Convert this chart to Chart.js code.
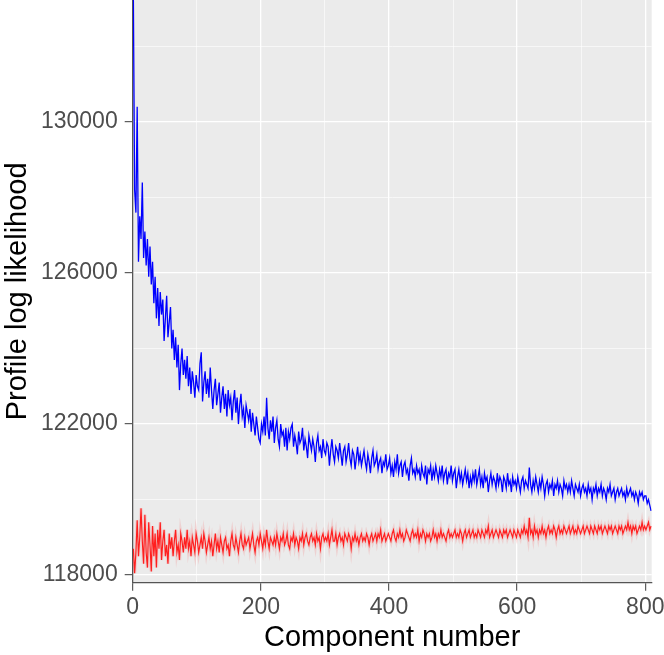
<!DOCTYPE html>
<html lang="en">
<head>
    <meta charset="UTF-8">
    <title>Profile log likelihood</title>
    <style>
        body { margin: 0; background: #ffffff; }
    </style>
</head>
<body>
<div>
  <canvas id="myChart" width="664" height="655"></canvas>
</div>
<script src="https://cdn.jsdelivr.net/npm/chart.js"></script>
<script>
  // one value every 2 components (1, 3, 5, ... 809)
  const componentStep = 2;

  const blueValues = [
    133400, 128200, 127600, 130400, 126300, 127500, 126900, 128400, 126400, 127100,
    126200, 126900, 125900, 126700, 125700, 126300, 125200, 125900, 124800, 125600,
    124600, 125500, 124900, 125300, 124200, 124800, 125400, 124300, 124700, 125100,
    124000, 124500, 123700, 124300, 123500, 124100, 122900, 123600, 124000, 123300,
    123700, 123200, 123800, 123000, 123500, 122800, 123400, 123100, 122700, 123300,
    123000, 122900, 123600, 123900, 122600, 123100, 123400, 122800, 123200, 122700,
    123500, 122900, 122400, 122900, 123200, 122500, 122800, 123100, 122300, 122700,
    123000, 122400, 122800, 122200, 122900, 122500, 122700, 122100, 122600, 122900,
    122300, 122700, 122000, 122500, 122800, 122200, 122400, 121900, 122500, 122300,
    122100, 122400, 121800, 122300, 122000, 121700, 122200, 121900, 121600, 121500,
    122000, 121800, 122200, 121700, 122700, 121900, 121600, 122100, 121800, 122200,
    121500, 121900, 122100, 121600, 121400, 122000, 121700, 121800, 121400, 121900,
    121300, 121800, 121600, 121900, 122000, 121400, 121700, 121500, 121200, 121800,
    121500, 121600, 121900, 121300, 121600, 121400, 121100, 121700, 121500, 121300,
    121600, 121400, 121000, 121500, 121700, 121300, 121400, 121100, 121600, 121300,
    121200, 121500, 121400, 120900, 121300, 121600, 121200, 121000, 121400, 121300,
    121100, 121500, 121200, 120900, 121300, 121400, 121000, 121200, 121500, 121100,
    120900, 121300, 121200, 120800, 121100, 121400, 121000, 121200, 120900, 121100,
    121300, 121000, 120800, 121200, 121000, 120700, 121100, 121300, 120900, 121000,
    121200, 120800, 121000, 121100, 120700, 121000, 120900, 121200, 120800, 120900,
    121100, 120700, 120900, 120600, 121000, 120800, 121200, 120700, 120900, 121000,
    120600, 120900, 121000, 120700, 120800, 120500, 120900, 121100, 120700, 120800,
    120600, 120900, 120700, 120800, 120500, 120900, 120700, 120600, 120900, 120400,
    120800, 120700, 120900, 120500, 120800, 120600, 120900, 120700, 120500, 120800,
    120600, 120900, 120500, 120700, 120800, 120400, 120700, 120600, 120900, 120500,
    120700, 120800, 120300, 120600, 120800, 120500, 120700, 120400, 120600, 120800,
    120500, 120700, 120300, 120600, 120400, 120700, 120500, 120800, 120400, 120600,
    120800, 120400, 120600, 120300, 120700, 120500, 120600, 120200, 120500, 120700,
    120400, 120600, 120500, 120300, 120700, 120400, 120600, 120500, 120200, 120600,
    120500, 120300, 120700, 120400, 120500, 120200, 120600, 120400, 120500, 120300,
    120600, 120400, 120200, 120500, 120600, 120300, 120500, 120400, 120300, 120850,
    120400, 120200, 120500, 120300, 120600, 120400, 120200, 120500, 120300, 120600,
    120400, 120100, 120400, 120500, 120200, 120400, 120300, 120500, 120100, 120400,
    120300, 120500, 120200, 120400, 120300, 120100, 120500, 120300, 120400, 120200,
    120400, 120200, 120500, 120300, 120100, 120400, 120300, 120200, 120400, 120100,
    120300, 120400, 120200, 120300, 120100, 120400, 120200, 120300, 120000, 120300,
    120200, 120400, 120100, 120300, 120200, 120400, 120100, 120300, 120200, 120000,
    120300, 120200, 120400, 120100, 120200, 120300, 120000, 120200, 120300, 120100,
    120200, 120300, 120100, 120200, 120000, 120300, 120100, 120200, 120300, 120100,
    120200, 120000, 120200, 120100, 119900, 120200, 120100, 120200, 120000, 120100,
    120100, 119900, 120000, 119850, 119700
  ];

  const redValues = [
    118700, 118050, 118600, 119450, 118500, 119000, 119770, 118900, 118300, 119600,
    118600, 118200, 119400, 118800, 118100, 119300, 118500, 119100, 118200, 119200,
    118700, 119400, 118400, 118900, 119200, 118500, 118800, 118300, 119100, 118700,
    119000, 118500, 118900, 119200, 118600, 118800, 118400, 119100, 118900, 118600,
    119000, 118700, 119200, 118700, 118900, 118500, 119000, 118800, 118600, 119100,
    118900, 118600, 118800, 119000, 118700, 119100, 118900, 118600, 118800, 119000,
    118700, 118900, 118500, 118800, 119100, 118700, 118900, 118600, 119000, 118800,
    118600, 118900, 119000, 118700, 118800, 118500, 118900, 119100, 118800, 118700,
    119000, 118800, 118600, 118900, 119100, 118800, 118700, 119000, 118800, 118900,
    119000, 118700, 118900, 119100, 118800, 118600, 118900, 119000, 118800, 119100,
    118900, 118700, 119000, 118800, 119200, 118900, 118700, 119000, 118900, 118800,
    119000, 118800, 119100, 118900, 118700, 119000, 118900, 119100, 118800, 118900,
    119100, 118800, 118700, 119000, 118900, 119100, 118800, 119000, 118900, 118700,
    119000, 118900, 119100, 118800, 119000, 119100, 118900, 118800, 119000, 119100,
    118900, 119000, 118800, 119100, 118900, 119000, 118700, 119000, 119100, 118900,
    119000, 118900, 119100, 118800, 119000, 119200, 118900, 118900, 119100, 118800,
    119000, 119100, 118900, 119000, 118800, 119100, 119000, 118900, 119100, 119000,
    118700, 119000, 118900, 119100, 118900, 119000, 118800, 119000, 119100, 118900,
    119000, 118900, 119100, 119000, 118800, 119000, 119100, 118900, 119000, 119100,
    118900, 119100, 119000, 119200, 118900, 119000, 119100, 118900, 119000, 119100,
    119000, 118900, 119100, 119200, 119000, 118900, 119100, 119000, 119200, 119000,
    119100, 118900, 119000, 119200, 119100, 119000, 118900, 119100, 119200, 119000,
    119100, 119000, 119200, 118900, 119100, 119000, 119200, 119100, 118900, 119100,
    119000, 119100, 118900, 119000, 119200, 119000, 119100, 118900, 119100, 119000,
    119200, 119000, 119100, 119000, 118900, 119100, 119200, 119000, 119100, 119000,
    119100, 119200, 119000, 119100, 119000, 119200, 119100, 118900, 119100, 119200,
    119000, 119100, 119200, 119000, 119100, 119200, 119000, 119100, 119000, 119200,
    119100, 119000, 119200, 119100, 119000, 119200, 119100, 119300, 119000, 119100,
    119200, 119000, 119100, 119200, 119100, 119000, 119200, 119100, 119000, 119200,
    119100, 119200, 119000, 119100, 119200, 119100, 119000, 119200, 119100, 119000,
    119200, 119100, 119000, 119200, 119100, 119300, 119100, 119200, 119000, 119520,
    119100, 119200, 119000, 119300, 119100, 119200, 119000, 119200, 119100, 119300,
    119100, 119200, 119000, 119200, 119300, 119100, 119200, 119100, 119300, 119200,
    119000, 119200, 119300, 119100, 119200, 119100, 119300, 119200, 119100, 119200,
    119300, 119100, 119200, 119300, 119100, 119200, 119100, 119300, 119200, 119100,
    119200, 119300, 119100, 119200, 119300, 119200, 119100, 119300, 119200, 119100,
    119300, 119200, 119100, 119300, 119200, 119300, 119100, 119200, 119300, 119200,
    119100, 119300, 119200, 119300, 119100, 119200, 119300, 119200, 119100, 119300,
    119200, 119300, 119100, 119200, 119300, 119200, 119400, 119200, 119300, 119100,
    119300, 119200, 119300, 119100, 119200, 119300, 119200, 119400, 119200, 119300,
    119200, 119300, 119400, 119200, 119300
  ];

  const xMajorTicks = [0, 200, 400, 600, 800];
  const xMinorTicks = [100, 300, 500, 700];
  const yMajorTicks = [118000, 122000, 126000, 130000];
  const yMinorTicks = [120000, 124000, 128000, 132000];

  const xRange = [0, 810];
  const yRange = [117800, 133230];

  const FONT = "'Liberation Sans', Arial, Helvetica, sans-serif";

  function toPoints(values) {
    return values.map((v, i) => ({ x: 1 + componentStep * i, y: v }));
  }

  function tickList(major, minor) {
    return major.concat(minor).sort((a, b) => a - b).map(v => ({ value: v }));
  }

  const panelBackground = {
    id: 'panelBackground',
    beforeDraw(chart) {
      const { ctx, chartArea } = chart;
      ctx.save();
      ctx.fillStyle = '#ebebeb';
      ctx.fillRect(chartArea.left, chartArea.top,
        chartArea.right - chartArea.left, chartArea.bottom - chartArea.top);
      ctx.restore();
    }
  };

  const ctx = document.getElementById('myChart');

  new Chart(ctx, {
    type: 'line',
    data: {
      datasets: [
        {
          label: 'blue',
          data: toPoints(blueValues),
          borderColor: '#0000ff',
          borderWidth: 1.3,
          pointRadius: 0,
          order: 1
        },
        {
          label: 'red',
          data: toPoints(redValues),
          borderColor: '#ff1f1f',
          borderWidth: 1.2,
          pointRadius: 0,
          order: 2
        },
        {
          label: 'red band',
          data: toPoints(redValues),
          borderColor: 'rgba(255, 60, 60, 0.14)',
          borderWidth: 3.5,
          pointRadius: 0,
          order: 3
        }
      ]
    },
    plugins: [panelBackground],
    options: {
      responsive: false,
      animation: false,
      events: [],
      layout: { padding: { left: 0, right: 12.3, top: 0, bottom: 0 } },
      plugins: {
        legend: { display: false },
        tooltip: { enabled: false }
      },
      scales: {
        x: {
          type: 'linear',
          min: xRange[0],
          max: xRange[1],
          afterBuildTicks: s => { s.ticks = tickList(xMajorTicks, xMinorTicks); },
          afterFit: s => { s.height = 72.3; s.paddingLeft = 0; s.paddingRight = 0; },
          ticks: {
            autoSkip: false,
            maxRotation: 0,
            padding: 3,
            color: '#4d4d4d',
            font: { family: FONT, size: 23 },
            callback: v => xMajorTicks.includes(v) ? String(v) : ''
          },
          grid: {
            color: '#ffffff',
            lineWidth: c => xMajorTicks.includes(c.tick.value) ? 1.3 : 0.6,
            tickLength: 8,
            tickColor: c => xMajorTicks.includes(c.tick.value) ? '#4d4d4d' : 'rgba(0,0,0,0)',
            tickWidth: 1.1
          },
          border: { display: true, color: '#555555', width: 1.3 },
          title: {
            display: true,
            text: 'Component number',
            color: '#000000',
            font: { family: FONT, size: 29 },
            padding: { top: 0, bottom: 0 }
          }
        },
        y: {
          type: 'linear',
          min: yRange[0],
          max: yRange[1],
          afterBuildTicks: s => { s.ticks = tickList(yMajorTicks, yMinorTicks); },
          afterFit: s => { s.width = 132.7; s.paddingTop = 0; s.paddingBottom = 0; },
          ticks: {
            autoSkip: false,
            padding: 7,
            color: '#4d4d4d',
            font: { family: FONT, size: 23 },
            callback: v => yMajorTicks.includes(v) ? String(v) : ''
          },
          grid: {
            color: '#ffffff',
            lineWidth: c => yMajorTicks.includes(c.tick.value) ? 1.3 : 0.6,
            tickLength: 8,
            tickColor: c => yMajorTicks.includes(c.tick.value) ? '#4d4d4d' : 'rgba(0,0,0,0)',
            tickWidth: 1.1
          },
          border: { display: true, color: '#555555', width: 1.3 },
          title: {
            display: true,
            text: 'Profile log likelihood',
            color: '#000000',
            font: { family: FONT, size: 29 },
            padding: { top: 1, bottom: 0 }
          }
        }
      }
    }
  });
</script>
</body>
</html>
